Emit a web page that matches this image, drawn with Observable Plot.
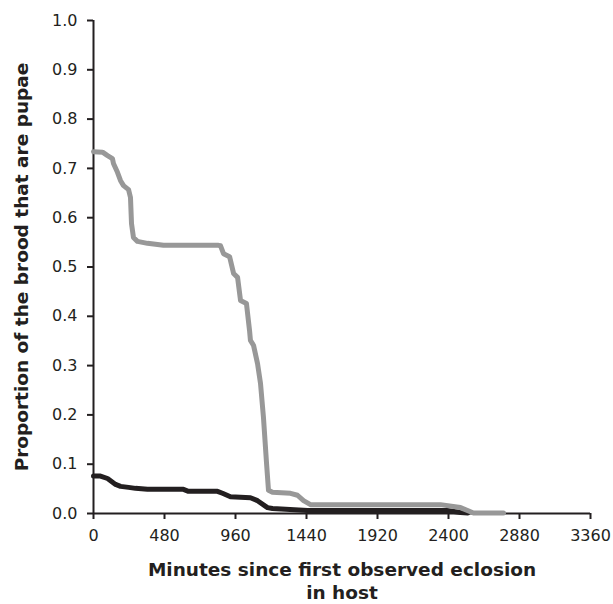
<!DOCTYPE html>
<html>
<head>
<meta charset="utf-8">
<script src="https://cdn.jsdelivr.net/npm/d3@7"></script>
<script src="https://cdn.jsdelivr.net/npm/@observablehq/plot@0.6"></script>
<style>
  html, body { margin: 0; padding: 0; background: #fff; }
</style>
</head>
<body>
<div id="chart"></div>
<script>
const xTicks = [0, 480, 960, 1440, 1920, 2400, 2880, 3360];
const yTicks = [0, 0.1, 0.2, 0.3, 0.4, 0.5, 0.6, 0.7, 0.8, 0.9, 1.0];

const greyMinutes = [0, 61, 95, 128, 135, 162, 183, 203, 237, 250, 257, 270, 297, 365, 473, 845, 859, 879, 920, 947, 974, 994, 1034, 1055, 1061, 1082, 1109, 1129, 1149, 1170, 1183, 1210, 1332, 1379, 1420, 1467, 1514, 2346, 2481, 2569, 2772];
const greyProportion = [0.734, 0.733, 0.726, 0.720, 0.710, 0.692, 0.675, 0.665, 0.657, 0.641, 0.588, 0.560, 0.552, 0.548, 0.544, 0.544, 0.543, 0.527, 0.521, 0.487, 0.479, 0.432, 0.426, 0.371, 0.351, 0.341, 0.304, 0.264, 0.195, 0.101, 0.047, 0.043, 0.041, 0.037, 0.026, 0.018, 0.018, 0.018, 0.012, 0.001, 0.001];

const blackMinutes = [0, 47, 95, 149, 183, 237, 284, 365, 608, 642, 838, 872, 926, 1061, 1109, 1176, 1210, 1447, 2393, 2481, 2530];
const blackProportion = [0.076, 0.076, 0.071, 0.059, 0.055, 0.053, 0.051, 0.049, 0.049, 0.045, 0.045, 0.041, 0.034, 0.032, 0.026, 0.012, 0.010, 0.006, 0.006, 0.002, 0.001];

const grey = greyMinutes.map((m, i) => ({minutes: m, proportion: greyProportion[i]}));
const black = blackMinutes.map((m, i) => ({minutes: m, proportion: blackProportion[i]}));

const font = "DejaVu Sans, Verdana, sans-serif";

const chart = Plot.plot({
  width: 613,
  height: 604,
  marginTop: 20,
  marginBottom: 91,
  marginLeft: 93,
  marginRight: 23,
  style: {fontFamily: font, fontSize: "16px", color: "#231f20", background: "#fff"},
  x: {domain: [0, 3360]},
  y: {domain: [0, 1]},
  marks: [
    Plot.axisY({ticks: yTicks, tickFormat: d3.format(".1f"), tickSize: 6, tickPadding: 10, label: null, stroke: "#231f20", strokeWidth: 2, fill: "#231f20", fontSize: 16}),
    Plot.axisX({ticks: xTicks, tickFormat: d => String(d), tickSize: 6, tickPadding: 10, label: null, stroke: "#231f20", strokeWidth: 2, fill: "#231f20", fontSize: 16}),
    Plot.ruleX([0], {stroke: "#231f20", strokeWidth: 2}),
    Plot.ruleY([0], {stroke: "#231f20", strokeWidth: 2}),
    Plot.line(black, {x: "minutes", y: "proportion", stroke: "#231f20", strokeWidth: 5, strokeLinejoin: "round"}),
    Plot.line(grey, {x: "minutes", y: "proportion", stroke: "#989898", strokeWidth: 5, strokeLinejoin: "round"}),
    Plot.text(["Minutes since first observed eclosion\nin host"], {frameAnchor: "bottom", lineAnchor: "middle", dy: 67, lineHeight: 1.25, text: d => d, fontWeight: "bold", fontSize: 18.5, fill: "#231f20"}),
    Plot.text(["Proportion of the brood that are pupae"], {frameAnchor: "left", textAnchor: "middle", rotate: -90, dx: -71, text: d => d, fontWeight: "bold", fontSize: 18.5, fill: "#231f20"})
  ]
});
document.getElementById("chart").appendChild(chart);
</script>
</body>
</html>
